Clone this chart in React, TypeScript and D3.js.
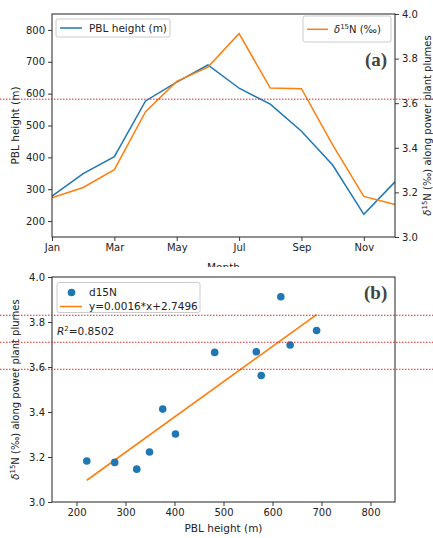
import React, { useEffect, useRef } from "react";
import * as d3 from "d3";

const months = ["Jan", "Feb", "Mar", "Apr", "May", "Jun", "Jul", "Aug", "Sep", "Oct", "Nov", "Dec"];
const pblHeight = [278, 349, 402, 577, 636, 690, 617, 567, 482, 376, 221, 323];
const d15N = [3.176, 3.222, 3.302, 3.562, 3.698, 3.762, 3.912, 3.668, 3.665, 3.413, 3.182, 3.146];
const monthTickIdx = [0, 2, 4, 6, 8, 10];
const pblTicks = [200, 300, 400, 500, 600, 700, 800];
const d15Ticks = [3.0, 3.2, 3.4, 3.6, 3.8, 4.0];
const pblXTicks = [200, 300, 400, 500, 600, 700, 800];
const fitSlope = 0.00157;
const fitIntercept = 2.7496;
const fitLabel = "y=0.0016*x+2.7496";
const r2Label = "=0.8502";
const refTop = [3.618];
const refBottom = [3.83, 3.71, 3.59];

const W = 433, H = 538;
const BLUE = "#1f77b4", ORANGE = "#ff7f0e", RED = "#d62728";
const FONT = "DejaVu Sans, sans-serif";

export default function App() {
  const ref = useRef<SVGSVGElement>(null);
  useEffect(() => {
    const svg = d3.select(ref.current);
    svg.selectAll("*").remove();

    const T = { l: 52, r: 395, t: 14, b: 237 };
    const B = { l: 52, r: 395, t: 277, b: 502 };

    const xT = d3.scaleLinear().domain([0, 11]).range([T.l, T.r]);
    const yL = d3.scaleLinear().domain([150, 850]).range([T.b, T.t]);
    const yR = d3.scaleLinear().domain([3, 4]).range([T.b, T.t]);
    const xB = d3.scaleLinear().domain([150, 850]).range([B.l, B.r]);
    const yB = d3.scaleLinear().domain([3, 4]).range([B.b, B.t]);

    svg.append("rect").attr("width", W).attr("height", H).attr("fill", "white");

    const styleAxis = (g: any) => {
      g.selectAll(".domain").remove();
      g.selectAll("line").attr("stroke", "#222").attr("stroke-width", 0.9);
      g.selectAll("text").attr("font-family", FONT).attr("font-size", 10).attr("fill", "#222");
    };

    // ---------- Top panel ----------
    const top = svg.append("g");
    const idx = d3.range(months.length);
    const lineB = d3.line<number>().x(i => xT(i)).y(i => yL(pblHeight[i]));
    const lineO = d3.line<number>().x(i => xT(i)).y(i => yR(d15N[i]));
    top.append("path").attr("d", lineB(idx)!).attr("fill", "none").attr("stroke", BLUE).attr("stroke-width", 1.5);
    top.append("path").attr("d", lineO(idx)!).attr("fill", "none").attr("stroke", ORANGE).attr("stroke-width", 1.5);

    top.append("g").attr("transform", `translate(${T.l},0)`)
      .call(d3.axisLeft(yL).tickValues(pblTicks).tickSize(4).tickPadding(3).tickFormat(d3.format("d")) as any)
      .call(styleAxis);
    top.append("g").attr("transform", `translate(${T.r},0)`)
      .call(d3.axisRight(yR).tickValues(d15Ticks).tickSize(4).tickPadding(3).tickFormat(d3.format(".1f")) as any)
      .call(styleAxis);
    top.append("g").attr("transform", `translate(0,${T.b})`)
      .call(d3.axisBottom(xT).tickValues(monthTickIdx).tickSize(4).tickPadding(3).tickFormat((d: any) => months[d]) as any)
      .call(styleAxis);
    top.append("rect").attr("x", T.l).attr("y", T.t).attr("width", T.r - T.l).attr("height", T.b - T.t)
      .attr("fill", "none").attr("stroke", "#222").attr("stroke-width", 1);

    // legends top
    const lg1 = top.append("g");
    lg1.append("rect").attr("x", 56).attr("y", 19).attr("width", 114).attr("height", 18).attr("rx", 2)
      .attr("fill", "white").attr("fill-opacity", 0.8).attr("stroke", "#ccc");
    lg1.append("line").attr("x1", 60).attr("x2", 82).attr("y1", 28).attr("y2", 28).attr("stroke", BLUE).attr("stroke-width", 1.5);
    lg1.append("text").attr("x", 89).attr("y", 31.8).attr("font-family", FONT).attr("font-size", 10.5).attr("fill", "#222").text("PBL height (m)");

    const lg2 = top.append("g");
    lg2.append("rect").attr("x", 303).attr("y", 16).attr("width", 88).attr("height", 26).attr("rx", 2)
      .attr("fill", "white").attr("fill-opacity", 0.8).attr("stroke", "#ccc");
    lg2.append("line").attr("x1", 307).attr("x2", 328).attr("y1", 29.3).attr("y2", 29.3).attr("stroke", ORANGE).attr("stroke-width", 1.5);
    const t2 = lg2.append("text").attr("x", 334).attr("y", 33).attr("font-family", FONT).attr("font-size", 10).attr("fill", "#222");
    t2.append("tspan").attr("font-style", "italic").text("δ");
    t2.append("tspan").attr("font-size", 7).attr("dy", -4).text("15");
    t2.append("tspan").attr("dy", 4).text("N (‰)");

    top.append("text").attr("x", 365).attr("y", 66).attr("font-family", "Liberation Serif, serif").attr("font-size", 19)
      .attr("font-weight", "bold").attr("fill", "#444").text("(a)");

    top.append("text").attr("transform", `translate(19,${(T.t + T.b) / 2}) rotate(-90)`).attr("text-anchor", "middle")
      .attr("font-family", FONT).attr("font-size", 10.5).attr("fill", "#222").text("PBL height (m)");
    const rl = top.append("text").attr("transform", `translate(431,${(T.t + T.b) / 2}) rotate(-90)`).attr("text-anchor", "middle")
      .attr("font-family", FONT).attr("font-size", 10).attr("fill", "#222");
    rl.append("tspan").attr("font-style", "italic").text("δ");
    rl.append("tspan").attr("font-size", 7).attr("dy", -4).text("15");
    rl.append("tspan").attr("dy", 4).text("N (‰) along power plant plumes");

    top.append("text").attr("x", (T.l + T.r) / 2).attr("y", 271).attr("text-anchor", "middle")
      .attr("font-family", FONT).attr("font-size", 10.5).attr("fill", "#222").text("Month");

    // cover (bottom image starts here)
    svg.append("rect").attr("x", 0).attr("y", 267).attr("width", W).attr("height", H - 267).attr("fill", "white");

    // ---------- Bottom panel ----------
    const bot = svg.append("g");
    bot.append("g").attr("transform", `translate(${B.l},0)`)
      .call(d3.axisLeft(yB).tickValues(d15Ticks).tickSize(4).tickPadding(3).tickFormat(d3.format(".1f")) as any)
      .call(styleAxis);
    bot.append("g").attr("transform", `translate(0,${B.b})`)
      .call(d3.axisBottom(xB).tickValues(pblXTicks).tickSize(4).tickPadding(3).tickFormat(d3.format("d")) as any)
      .call(styleAxis);

    const xMin = d3.min(pblHeight)!, xMax = d3.max(pblHeight)!;
    bot.append("line").attr("x1", xB(xMin)).attr("x2", xB(xMax))
      .attr("y1", yB(fitSlope * xMin + fitIntercept)).attr("y2", yB(fitSlope * xMax + fitIntercept))
      .attr("stroke", ORANGE).attr("stroke-width", 1.6);

    bot.selectAll("circle.pt").data(idx).enter().append("circle")
      .attr("cx", i => xB(pblHeight[i])).attr("cy", i => yB(d15N[i])).attr("r", 3.8).attr("fill", BLUE);

    bot.append("rect").attr("x", B.l).attr("y", B.t).attr("width", B.r - B.l).attr("height", B.b - B.t)
      .attr("fill", "none").attr("stroke", "#222").attr("stroke-width", 1);

    const lg3 = bot.append("g");
    lg3.append("rect").attr("x", 57).attr("y", 282.5).attr("width", 143).attr("height", 30).attr("rx", 2)
      .attr("fill", "white").attr("fill-opacity", 0.8).attr("stroke", "#ccc");
    lg3.append("circle").attr("cx", 71.5).attr("cy", 292.5).attr("r", 3.8).attr("fill", BLUE);
    lg3.append("text").attr("x", 89).attr("y", 296.3).attr("font-family", FONT).attr("font-size", 10.5).attr("fill", "#222").text("d15N");
    lg3.append("line").attr("x1", 60).attr("x2", 82).attr("y1", 306.5).attr("y2", 306.5).attr("stroke", ORANGE).attr("stroke-width", 1.5);
    lg3.append("text").attr("x", 89).attr("y", 310.3).attr("font-family", FONT).attr("font-size", 10.5).attr("fill", "#222").text(fitLabel);

    const r2 = bot.append("text").attr("x", 57).attr("y", 334.5).attr("font-family", FONT).attr("font-size", 10.5).attr("fill", "#222");
    r2.append("tspan").attr("font-style", "italic").text("R");
    r2.append("tspan").attr("font-size", 7).attr("dy", -4).text("2");
    r2.append("tspan").attr("dy", 4).text(r2Label);

    bot.append("text").attr("x", 364).attr("y", 299).attr("font-family", "Liberation Serif, serif").attr("font-size", 19)
      .attr("font-weight", "bold").attr("fill", "#444").text("(b)");

    const bl = bot.append("text").attr("transform", `translate(19,${(B.t + B.b) / 2}) rotate(-90)`).attr("text-anchor", "middle")
      .attr("font-family", FONT).attr("font-size", 10).attr("fill", "#222");
    bl.append("tspan").attr("font-style", "italic").text("δ");
    bl.append("tspan").attr("font-size", 7).attr("dy", -4).text("15");
    bl.append("tspan").attr("dy", 4).text("N (‰) along power plant plumes");

    bot.append("text").attr("x", (B.l + B.r) / 2).attr("y", 532).attr("text-anchor", "middle")
      .attr("font-family", FONT).attr("font-size", 10.5).attr("fill", "#222").text("PBL height (m)");

    // ---------- red dotted reference lines (full width) ----------
    svg.selectAll("line.refT").data(refTop).enter().append("line")
      .attr("x1", 0).attr("x2", W).attr("y1", d => yR(d)).attr("y2", d => yR(d))
      .attr("stroke", RED).attr("stroke-width", 1).attr("stroke-dasharray", "1.5,1.5");
    svg.selectAll("line.refB").data(refBottom).enter().append("line")
      .attr("x1", 0).attr("x2", W).attr("y1", d => yB(d)).attr("y2", d => yB(d))
      .attr("stroke", RED).attr("stroke-width", 1).attr("stroke-dasharray", "1.5,1.5");
  }, []);

  return (
    <svg ref={ref} width={W} height={H} style={{ position: "absolute", left: 0, top: 0 }} />
  );
}
